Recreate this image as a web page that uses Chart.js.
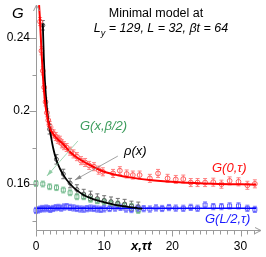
<!DOCTYPE html>
<html>
<head>
<meta charset="utf-8">
<script src="https://cdn.jsdelivr.net/npm/chart.js@4/dist/chart.umd.min.js"></script>
<style>
  body { margin: 0; background: #fff; }
  canvas { display: block; }
</style>
</head>
<body>
<canvas id="c" width="266" height="257"></canvas>
<script>
// axis ticks
const xTicks = [0,1,2,3,4,5,6,7,8,9,10,11,12,13,14,15,16,17,18,19,20,21,22,23,24,25,26,27,28,29,30,31,32];
const xLabels = [0, 10, 20, 30];
const yTicks = [0.14, 0.16, 0.18, 0.2, 0.22, 0.24];
const yLabels = [0.16, 0.2, 0.24];

// G(0,tau) - red
const redX = [0.6,0.8,1.0,1.2,1.4,1.6,1.8,2.0,2.3,2.6,2.9,3.2,3.5,3.8,4.1,4.5,5.0,5.5,6.0,6.6,7.2,7.8,8.5,9.2,9.8,11.3,12.3,13.3,14.2,15.2,16.7,17.9,19.3,20.5,21.6,22.7,23.7,24.8,26.0,27.2,28.4,29.7,31.0,32.1];
const redY = [0.249,0.233,0.222,0.213,0.205,0.199,0.195,0.192,0.189,0.1875,0.186,0.1845,0.184,0.182,0.181,0.180,0.178,0.1765,0.175,0.1728,0.1718,0.1702,0.1695,0.1676,0.1667,0.1658,0.1673,0.1655,0.1649,0.1649,0.1631,0.1658,0.1631,0.1625,0.1627,0.1608,0.1608,0.1608,0.161,0.1599,0.1617,0.1612,0.1593,0.1601];
const redErr = 0.0022;
const redFitX = [0.45,0.6,0.8,1.0,1.3,1.6,2.0,2.5,3,4,5,6,7,8,9,10,12,14,17,21,26,32.3];
const redFitY = [0.258,0.249,0.233,0.220,0.206,0.198,0.191,0.1875,0.1852,0.1818,0.1775,0.1745,0.1722,0.1702,0.1683,0.1667,0.1648,0.1635,0.1621,0.161,0.1602,0.1597];

// rho(x) - black
const blackX = [1,2,3,4,5,6,7,8,9,10,11,12,13,14,15];
const blackY = [0.247,0.19,0.1735,0.1655,0.1605,0.157,0.1545,0.1535,0.152,0.151,0.1503,0.1495,0.149,0.148,0.1475];
const blackErr = 0.0026;
const blackFitX = [1,1.15,1.3,1.5,1.7,2,2.5,3,3.5,4,5,6,7,8,9,10,11,12,13,14,15,15.6];
const blackFitY = [0.248,0.229,0.217,0.206,0.198,0.1905,0.1800,0.1730,0.1685,0.1650,0.1600,0.1565,0.1540,0.1523,0.1510,0.1500,0.1491,0.1483,0.1477,0.1472,0.1467,0.1465];

// G(x,beta/2) - green
const greenX = [0,1,2,3,4,5,6,7,8,9,10,11,12,13,14,15];
const greenY = [0.1603,0.160,0.1585,0.158,0.1567,0.1552,0.153,0.153,0.1516,0.1508,0.1502,0.1495,0.149,0.1482,0.1478,0.1455];
const greenErr = 0.0016;

// G(L/2,tau) - blue
const blueX = [0,0.3,0.6,0.9,1.2,1.5,1.8,2.1,2.5,2.9,3.3,3.7,4.1,4.5,5,5.5,6,6.5,7,7.5,8,8.5,9,9.5,10,10.8,11.6,12.4,13.2,14,14.9,15.8,16.7,17.6,18.5,19.5,20.5,21.6,22.7,23.7,24.8,26,27.2,28.4,29.7,31,32.1];
const blueY = [0.1455,0.1458,0.1462,0.1466,0.1464,0.1468,0.1465,0.1461,0.1466,0.147,0.1472,0.1468,0.1474,0.1476,0.1472,0.1469,0.1466,0.1463,0.1462,0.1465,0.1468,0.1466,0.1463,0.1461,0.1464,0.1466,0.1468,0.1472,0.1463,0.146,0.1468,0.1465,0.1463,0.1469,0.1466,0.1471,0.1468,0.1467,0.1472,0.1467,0.1485,0.1476,0.1476,0.148,0.148,0.1467,0.1461];
const blueErr = 0.0017;
const blueFitX = [0, 32.3];
const blueFitY = [0.1467, 0.1467];

const pts = (xs, ys) => xs.map((x, i) => ({ x, y: ys[i] }));

// error bars under the markers
const errorBars = {
  id: "errorBars",
  beforeDatasetsDraw(chart) {
    const { ctx, scales: { x, y } } = chart;
    chart.data.datasets.forEach(ds => {
      if (!ds.err) return;
      ctx.save();
      ctx.strokeStyle = ds.errColor;
      ctx.lineWidth = 1;
      ds.data.forEach(p => {
        const px = x.getPixelForValue(p.x);
        const y1 = y.getPixelForValue(p.y - ds.err);
        const y2 = y.getPixelForValue(p.y + ds.err);
        ctx.beginPath();
        ctx.moveTo(px, y1); ctx.lineTo(px, y2);
        ctx.moveTo(px - 2, y1); ctx.lineTo(px + 2, y1);
        ctx.moveTo(px - 2, y2); ctx.lineTo(px + 2, y2);
        ctx.stroke();
      });
      ctx.restore();
    });
  }
};

function arrow(ctx, x1, y1, x2, y2, color) {
  const a = Math.atan2(y2 - y1, x2 - x1);
  ctx.strokeStyle = color;
  ctx.fillStyle = color;
  ctx.lineWidth = 0.8;
  ctx.beginPath();
  ctx.moveTo(x1, y1); ctx.lineTo(x2, y2);
  ctx.stroke();
  ctx.beginPath();
  ctx.moveTo(x2, y2);
  ctx.lineTo(x2 - 7 * Math.cos(a - 0.3), y2 - 7 * Math.sin(a - 0.3));
  ctx.lineTo(x2 - 7 * Math.cos(a + 0.3), y2 - 7 * Math.sin(a + 0.3));
  ctx.closePath();
  ctx.fill();
}

// axes, ticks, labels, annotations
const decor = {
  id: "decor",
  afterDraw(chart) {
    const { ctx, chartArea: a, scales: { x, y } } = chart;
    ctx.save();
    ctx.strokeStyle = "#9a9a9a";
    ctx.lineWidth = 1;
    const x0 = Math.round(a.left) + 0.5, yb = Math.round(a.bottom) + 0.5;
    ctx.beginPath();
    ctx.moveTo(x0, a.top); ctx.lineTo(x0, yb);
    ctx.lineTo(a.right, yb);
    // arrow heads
    ctx.moveTo(x0 - 3, a.top + 6); ctx.lineTo(x0, a.top); ctx.lineTo(x0 + 3, a.top + 6);
    ctx.moveTo(a.right - 6, yb - 3); ctx.lineTo(a.right, yb); ctx.lineTo(a.right - 6, yb + 3);
    xTicks.forEach(v => {
      const px = Math.round(x.getPixelForValue(v)) + 0.5;
      const len = v % 10 === 0 ? 6 : 4;
      ctx.moveTo(px, yb); ctx.lineTo(px, yb + len);
    });
    yTicks.forEach(v => {
      const py = Math.round(y.getPixelForValue(v)) + 0.5;
      const len = yLabels.includes(v) ? 7 : 4;
      ctx.moveTo(x0, py); ctx.lineTo(x0 - len, py);
    });
    ctx.stroke();

    ctx.fillStyle = "#000";
    ctx.font = "12px 'Liberation Sans', Arial, sans-serif";
    ctx.textBaseline = "middle";
    ctx.textAlign = "center";
    xLabels.forEach(v => ctx.fillText(String(v), x.getPixelForValue(v), 247));
    ctx.textAlign = "right";
    yLabels.forEach(v => ctx.fillText(String(v), 30, y.getPixelForValue(v)));

    ctx.textAlign = "left";
    ctx.font = "italic 15px 'Liberation Sans', Arial, sans-serif";
    ctx.fillText("G", 12, 14);
    ctx.font = "italic bold 13px 'Liberation Sans', Arial, sans-serif";
    ctx.fillText("x,τt", 131, 246);

    // title
    ctx.font = "12.5px 'Liberation Sans', Arial, sans-serif";
    ctx.textAlign = "center";
    ctx.fillText("Minimal model at", 156, 14);
    ctx.textAlign = "left";
    const big = "italic 12.5px 'Liberation Sans', Arial, sans-serif";
    const small = "italic 9px 'Liberation Sans', Arial, sans-serif";
    const rest = " = 129, L = 32, βt = 64";
    ctx.font = big; const wL = ctx.measureText("L").width;
    const wR = ctx.measureText(rest).width;
    ctx.font = small; const wy = ctx.measureText("y").width;
    let tx = 161 - (wL + wy + wR) / 2;
    ctx.font = big; ctx.fillText("L", tx, 29);
    ctx.font = small; ctx.fillText("y", tx + wL, 33);
    ctx.font = big; ctx.fillText(rest, tx + wL + wy, 29);

    // series labels
    ctx.font = "italic 13px 'Liberation Sans', Arial, sans-serif";
    ctx.fillStyle = "#3c9c5c";
    ctx.fillText("G(x,β/2)", 80, 126);
    ctx.fillStyle = "#000";
    ctx.fillText("ρ(x)", 124, 151);
    ctx.fillStyle = "#ff1010";
    ctx.fillText("G(0,τ)", 212, 168);
    ctx.fillStyle = "#1a1aff";
    ctx.fillText("G(L/2,τ)", 205, 219);

    arrow(ctx, x.getPixelForValue(6.15), y.getPixelForValue(0.1836),
               x.getPixelForValue(1.6), y.getPixelForValue(0.1644), "#8fcca4");
    arrow(ctx, x.getPixelForValue(12.0), y.getPixelForValue(0.1753),
               x.getPixelForValue(5.7), y.getPixelForValue(0.1622), "#8a8a8a");
    ctx.restore();
  }
};

const lineDs = (xs, ys, color, w) => ({
  type: "line", data: pts(xs, ys), borderColor: color, borderWidth: w,
  pointRadius: 0, fill: false, cubicInterpolationMode: "monotone", clip: false
});
const markDs = (xs, ys, color, style, r, err, errColor) => ({
  type: "scatter", data: pts(xs, ys), showLine: false, pointStyle: style,
  pointRadius: r, borderColor: color, backgroundColor: "rgba(0,0,0,0)",
  pointBorderWidth: 1, err, errColor, clip: false
});

new Chart(document.getElementById("c"), {
  data: {
    datasets: [
      lineDs(redFitX, redFitY, "#ff0000", 2),
      lineDs(blackFitX, blackFitY, "#000000", 1.8),
      lineDs(blueFitX, blueFitY, "#0000ff", 1.6),
      markDs(redX, redY, "#ff5c5c", "circle", 2.4, redErr, "#ff8080"),
      markDs(blackX, blackY, "#555555", "circle", 2, blackErr, "#707070"),
      markDs(greenX, greenY, "#6cb688", "rect", 2.8, greenErr, "#8cc8a0"),
      markDs(blueX, blueY, "#5a5aff", "rect", 2.8, blueErr, "#7a7aff")
    ]
  },
  options: {
    responsive: false,
    animation: false,
    events: [],
    layout: { padding: { left: 36, right: 5, top: 5, bottom: 27 } },
    plugins: { legend: { display: false }, tooltip: { enabled: false } },
    scales: {
      x: { type: "linear", display: false, min: 0, max: 33 },
      y: { type: "linear", display: false, min: 0.1348, max: 0.2581 }
    }
  },
  plugins: [errorBars, decor]
});
</script>
</body>
</html>
